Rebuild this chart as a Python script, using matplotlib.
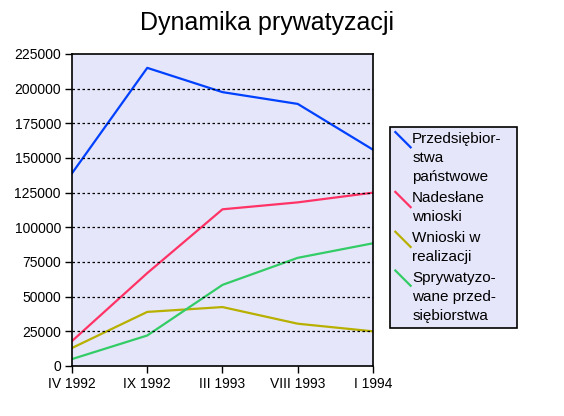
import matplotlib.pyplot as plt
from matplotlib.lines import Line2D
from matplotlib.legend_handler import HandlerBase

plt.rcParams['font.family'] = ['Liberation Sans', 'DejaVu Sans']

periods = ['IV 1992', 'IX 1992', 'III 1993', 'VIII 1993', 'I 1994']
panstwowe = [139000, 215000, 197500, 189000, 156000]
nadeslane = [18000, 67000, 113000, 118000, 125000]
w_realizacji = [13000, 39000, 42500, 30500, 25000]
sprywatyzowane = [5000, 22000, 58500, 78000, 88500]
yticks = list(range(0, 225001, 25000))

bg = '#E6E6FA'
LSP = 1.45


class DiagHandler(HandlerBase):
    # diagonal legend key next to the first line of the label
    def create_artists(self, legend, orig_handle, xdescent, ydescent,
                       width, height, fontsize, trans):
        n = orig_handle.get_label().count('\n')
        shift = n / 2 * fontsize * LSP * 0.95
        x0, x1 = -xdescent, -xdescent + width
        y1 = -ydescent + height + shift
        ln = Line2D([x0, x1], [y1, y1 - width], color=orig_handle.get_color(),
                    lw=orig_handle.get_linewidth(), transform=trans)
        return [ln]


fig = plt.figure(figsize=(5.64, 4.16), dpi=100)
ax = fig.add_axes([0.1277, 0.1202, 0.5336, 0.75])
ax.set_facecolor(bg)

x = range(len(periods))
ax.plot(x, panstwowe, color='#0040FF', lw=1.6, label='Przedsiębior-\nstwa\npaństwowe')
ax.plot(x, nadeslane, color='#FF3366', lw=1.6, label='Nadesłane\nwnioski')
ax.plot(x, w_realizacji, color='#B8B000', lw=1.6, label='Wnioski w\nrealizacji')
ax.plot(x, sprywatyzowane, color='#33CC66', lw=1.6, label='Sprywatyzo-\nwane przed-\nsiębiorstwa')

ax.set_xlim(0, len(periods) - 1)
ax.set_ylim(0, 225000)
ax.set_xticks(list(x))
ax.set_xticklabels(periods, fontsize=10)
ax.set_yticks(yticks)
ax.set_yticklabels([str(v) for v in yticks], fontsize=10)
ax.tick_params(direction='out', length=5, width=1, color='black', pad=3)
for t in yticks[1:-1]:
    ax.axhline(t, color='black', lw=0.9, ls=(0, (2, 2)))
for s in ax.spines.values():
    s.set_linewidth(1.2)

fig.suptitle('Dynamika prywatyzacji', x=0.474, y=0.973, fontsize=18)

handles, labels = ax.get_legend_handles_labels()
leg = fig.legend(handles, labels, loc='upper left',
                 bbox_to_anchor=(390 / 564, 86 / 416, 127 / 564, 203 / 416),
                 mode='expand', borderaxespad=0, fontsize=11, frameon=True,
                 fancybox=False, handlelength=1.0, handletextpad=0.1,
                 labelspacing=0.45, borderpad=0.35,
                 handler_map={Line2D: DiagHandler()})
leg.get_frame().set_facecolor(bg)
leg.get_frame().set_edgecolor('black')
leg.get_frame().set_linewidth(1.2)
leg.get_frame().set_alpha(1)
for t in leg.get_texts():
    t.set_linespacing(LSP)

plt.savefig('out.png', dpi=100)
